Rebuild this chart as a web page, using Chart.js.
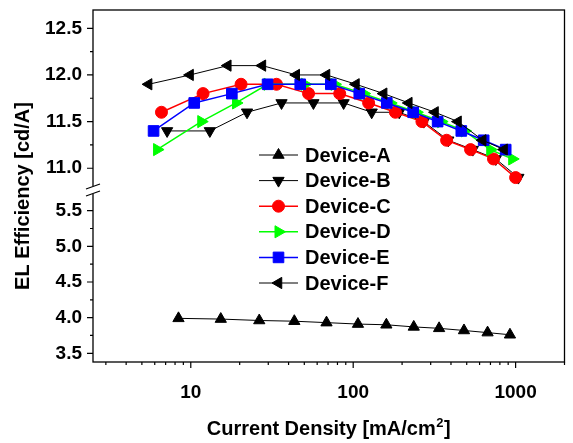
<!DOCTYPE html>
<html><head><meta charset="utf-8">
<script src="https://cdn.jsdelivr.net/npm/chart.js@4.4.1/dist/chart.umd.min.js"></script>
<style>html,body{margin:0;padding:0;background:#fff;}#wrap{width:573px;height:443px;}</style>
</head><body><div id="wrap"><canvas id="c" width="573" height="443"></canvas></div>
<script>
// ---- data ----
const seriesNames = ['Device-A','Device-B','Device-C','Device-D','Device-E','Device-F'];
const xA = [8.4, 15.3, 26.4, 43.4, 68.5, 107, 160, 236, 338, 481, 672, 923];
const yA = [3.99, 3.98, 3.96, 3.95, 3.93, 3.91, 3.90, 3.87, 3.85, 3.82, 3.79, 3.76];
const xB = [7.15, 13.1, 22.2, 36.2, 56.9, 87.3, 130, 192, 272, 385, 545, 755, 1040];
const yB = [11.4, 11.4, 11.6, 11.7, 11.7, 11.7, 11.6, 11.6, 11.5, 11.3, 11.2, 11.1, 10.9];
const xC = [6.6, 11.9, 20.4, 33.7, 53.1, 82.6, 124.5, 182, 265, 376, 528, 731, 1000];
const yC = [11.6, 11.8, 11.9, 11.9, 11.8, 11.8, 11.7, 11.6, 11.5, 11.3, 11.2, 11.1, 10.9];
const xD = [6.2, 11.6, 19.0, 29.7, 50.4, 76.7, 116, 169, 245, 348, 485, 698, 953];
const yD = [11.2, 11.5, 11.7, 11.9, 11.9, 11.9, 11.8, 11.7, 11.6, 11.5, 11.4, 11.2, 11.1];
const xE = [5.9, 10.5, 17.9, 29.7, 47.2, 72.8, 109, 161, 234, 331, 463, 636, 869];
const yE = [11.4, 11.7, 11.8, 11.9, 11.9, 11.9, 11.8, 11.7, 11.6, 11.5, 11.4, 11.3, 11.2];
const xF = [5.5, 9.9, 16.9, 27.6, 44.6, 68.5, 104, 154, 220, 319, 442, 627, 849];
const yF = [11.9, 12.0, 12.1, 12.1, 12.0, 12.0, 11.9, 11.8, 11.7, 11.6, 11.5, 11.3, 11.2];
const xTicks = [10, 100, 1000];
const yTicksUpper = [11.0, 11.5, 12.0, 12.5];
const yTicksLower = [3.5, 4.0, 4.5, 5.0, 5.5];
const xTitle = ['Current Density [mA/cm', '2', ']'];
const yTitle = 'EL Efficiency [cd/A]';

// ---- styling ----
const FONT = '"Liberation Sans", Arial, sans-serif';
const tickFont = {family: FONT, size: 19, weight: 'bold'};

function ds(i, xs, ys, color, style, rot, r, axis, order, bw) {
  return {
    label: seriesNames[i],
    data: xs.map((x, k) => ({x: x, y: ys[k]})),
    borderColor: color, backgroundColor: color,
    pointBackgroundColor: color, pointBorderColor: color,
    pointStyle: style, pointRotation: rot, pointRadius: r, pointBorderWidth: 1,
    borderWidth: bw, yAxisID: axis, order: order, tension: 0, fill: false
  };
}

const datasets = [
  ds(0, xA, yA, '#000000', 'triangle', 0, 6.5, 'yLow', 6, 1),
  ds(1, xB, yB, '#000000', 'triangle', 180, 6.5, 'yUp', 5, 1),
  ds(2, xC, yC, '#ff0000', 'circle', 0, 6, 'yUp', 4, 1.5),
  ds(3, xD, yD, '#00ff00', 'triangle', 90, 7, 'yUp', 3, 1.5),
  ds(4, xE, yE, '#0000ff', 'rect', 0, 7.5, 'yUp', 2, 1.5),
  ds(5, xF, yF, '#000000', 'triangle', 270, 6.5, 'yUp', 1, 1)
];

function drawMarker(ctx, d, x, y) {
  ctx.fillStyle = d.pointBackgroundColor;
  ctx.strokeStyle = d.pointBorderColor;
  ctx.lineWidth = 1;
  Chart.helpers.drawPoint(ctx, {pointStyle: d.pointStyle, rotation: d.pointRotation, radius: d.pointRadius, borderWidth: 1}, x, y);
}

const decor = {
  id: 'decor',
  afterDraw(chart) {
    const {ctx, chartArea: a, scales} = chart;
    ctx.save();
    // frame
    ctx.strokeStyle = '#000'; ctx.lineWidth = 1.3;
    ctx.strokeRect(a.left, a.top, a.right - a.left, a.bottom - a.top);
    // x ticks
    const sx = scales.x;
    ctx.lineWidth = 1.2;
    ctx.beginPath();
    for (let d = 1; d <= 1000; d *= 10) {
      for (let k = 1; k <= 9; k++) {
        const v = d * k;
        if (v < sx.min || v > sx.max) continue;
        const px = sx.getPixelForValue(v);
        const L = k === 1 ? 6 : 3;
        ctx.moveTo(px, a.bottom); ctx.lineTo(px, a.bottom + L);
      }
    }
    // y ticks
    [['yUp', yTicksUpper], ['yLow', yTicksLower]].forEach(([id, tv]) => {
      const s = scales[id];
      tv.forEach(v => {
        const py = s.getPixelForValue(v);
        ctx.moveTo(a.left, py); ctx.lineTo(a.left - 6, py);
      });
      for (let i = 0; i < tv.length - 1; i++) {
        const py = s.getPixelForValue((tv[i] + tv[i + 1]) / 2);
        ctx.moveTo(a.left, py); ctx.lineTo(a.left - 3, py);
      }
    });
    ctx.stroke();
    // axis break
    const by = scales.yUp.bottom;
    ctx.fillStyle = '#fff';
    ctx.fillRect(a.left - 2, by - 4, 4, 8);
    ctx.strokeStyle = '#000'; ctx.lineWidth = 1.2;
    ctx.beginPath();
    ctx.moveTo(a.left - 7, by - 1); ctx.lineTo(a.left + 7, by - 6);
    ctx.moveTo(a.left - 7, by + 6); ctx.lineTo(a.left + 7, by + 1);
    ctx.stroke();
    // legend
    const lx0 = 259, lx1 = 298, tx = 305, ly0 = 155, dy = 25.6;
    ctx.font = 'bold 20px ' + FONT;
    ctx.textBaseline = 'middle'; ctx.textAlign = 'left';
    chart.data.datasets.forEach((d, i) => {
      const y = ly0 + i * dy;
      ctx.strokeStyle = d.borderColor; ctx.lineWidth = d.borderWidth;
      ctx.beginPath(); ctx.moveTo(lx0, y); ctx.lineTo(lx1, y); ctx.stroke();
      drawMarker(ctx, d, (lx0 + lx1) / 2, y);
      ctx.fillStyle = '#000';
      ctx.fillText(d.label, tx, y + 1);
    });
    // axis titles
    ctx.fillStyle = '#000';
    ctx.font = 'bold 20px ' + FONT;
    ctx.textBaseline = 'alphabetic';
    ctx.textAlign = 'left';
    const w1 = ctx.measureText(xTitle[0]).width;
    ctx.font = 'bold 13px ' + FONT;
    const w2 = ctx.measureText(xTitle[1]).width;
    ctx.font = 'bold 20px ' + FONT;
    const w3 = ctx.measureText(xTitle[2]).width;
    const cx = (a.left + a.right) / 2;
    let x0 = cx - (w1 + w2 + w3 + 1) / 2;
    const base = 435;
    ctx.fillText(xTitle[0], x0, base);
    ctx.font = 'bold 13px ' + FONT;
    ctx.fillText(xTitle[1], x0 + w1 + 0.5, base - 8);
    ctx.font = 'bold 20px ' + FONT;
    ctx.fillText(xTitle[2], x0 + w1 + w2 + 1, base);
    ctx.translate(29, 196);
    ctx.rotate(-Math.PI / 2);
    ctx.textAlign = 'center';
    ctx.fillText(yTitle, 0, 0);
    ctx.restore();
  }
};

function yAxis(ticksArr, min, max, weight) {
  return {
    type: 'linear', position: 'left', stack: 'y', stackWeight: weight,
    min: min, max: max, offset: false,
    afterBuildTicks: s => { s.ticks = ticksArr.map(v => ({value: v})); },
    afterFit: s => { s.width = 93; s.paddingTop = 0; s.paddingBottom = 0; },
    grid: {display: true, drawOnChartArea: false, drawTicks: true, tickLength: 6, color: 'rgba(0,0,0,0)'},
    border: {display: false},
    ticks: {padding: 5, color: '#000', font: tickFont, callback: v => Number(v).toFixed(1)}
  };
}

new Chart(document.getElementById('c'), {
  type: 'line',
  data: {datasets: datasets},
  options: {
    responsive: false, animation: false, devicePixelRatio: 1,
    layout: {padding: {top: 10, right: 3, left: 0, bottom: 0}},
    plugins: {legend: {display: false}, tooltip: {enabled: false}},
    scales: {
      x: {
        type: 'logarithmic', position: 'bottom', min: 2.5, max: 2000,
        afterBuildTicks: s => { s.ticks = xTicks.map(v => ({value: v})); },
        afterFit: s => { s.height = 81; s.paddingLeft = 0; s.paddingRight = 0; },
        grid: {display: true, drawOnChartArea: false, drawTicks: true, tickLength: 6, color: 'rgba(0,0,0,0)'},
        border: {display: false},
        ticks: {autoSkip: false, maxRotation: 0, padding: 13, color: '#000', font: tickFont, callback: v => String(v)}
      },
      yLow: yAxis(yTicksLower, 3.378, 5.79, 172),
      yUp: yAxis(yTicksUpper, 10.767, 12.696, 180)
    }
  },
  plugins: [decor]
});
</script></body></html>
